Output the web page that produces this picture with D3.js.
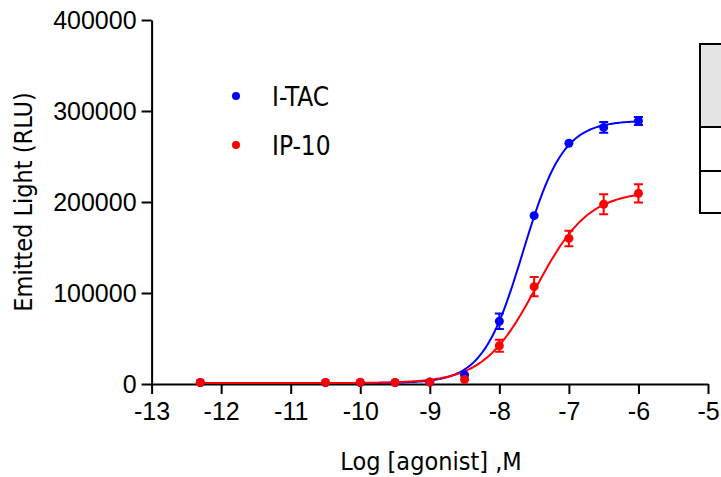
<!DOCTYPE html>
<html>
<head>
<meta charset="utf-8">
<script src="https://cdn.jsdelivr.net/npm/d3@7"></script>
<style>
  body { margin: 0; background: #fff; }
  svg { display: block; font-family: "DejaVu Sans Condensed", "DejaVu Sans", sans-serif; font-stretch: condensed; }
</style>
</head>
<body>
<div id="chart"></div>
<script>
// Data
const logDose = [-12.3, -10.5, -10, -9.5, -9, -8.5, -8, -7.5, -7, -6.5, -6];
const itacMean = [1600, 1500, 1700, 1500, 2200, 10000, 69000, 185000, 264500, 282000, 289000];
const itacSem = [0, 0, 0, 0, 0, 0, 8500, 0, 0, 6000, 4500];
const ip10Mean = [1700, 1600, 1800, 1600, 2000, 5000, 42000, 107000, 160000, 197500, 209500];
const ip10Sem = [0, 0, 0, 0, 0, 0, 6500, 10500, 8500, 11000, 10000];

// fitted 4PL params: [bottom, top, logEC50, hill]
const itacFit = [1000, 289500, -7.66, 1.5];
const ip10Fit = [1000, 212000, -7.47, 1.15];

const xTicks = [-13, -12, -11, -10, -9, -8, -7, -6, -5];
const yTicks = [0, 100000, 200000, 300000, 400000];
const seriesNames = ['I-TAC', 'IP-10'];
const seriesColors = ['#0000ff', '#ff0000'];

const W = 721, H = 477;
const FONT = 25;
const svg = d3.select('#chart').append('svg')
    .attr('width', W)
    .attr('height', H);

const x = d3.scaleLinear().domain([-13, -5]).range([151.6, 708]);
const y = d3.scaleLinear().domain([0, 400000]).range([384, 20]);

// results table stub at the right edge
const table = svg.append('g');
table.append('rect').attr('x', 700).attr('y', 44).attr('width', 30).attr('height', 83)
    .attr('fill', '#e4e4e4');
table.append('path')
    .attr('d', 'M730,44H700V213H730M700,127H730M700,171H730')
    .attr('fill', 'none').attr('stroke', '#000').attr('stroke-width', 2);

// axes
const xAxis = svg.append('g')
    .attr('transform', 'translate(0,384)')
    .call(d3.axisBottom(x).tickValues(xTicks).tickSize(10).tickSizeOuter(0).tickPadding(8)
        .tickFormat(d => d < 0 ? '-' + Math.abs(d) : d));
const yAxis = svg.append('g')
    .attr('transform', 'translate(151.6,0)')
    .call(d3.axisLeft(y).tickValues(yTicks).tickSize(10).tickSizeOuter(0).tickPadding(5)
        .tickFormat(d3.format('d')));

[xAxis, yAxis].forEach(a => {
    a.select('.domain').attr('stroke-width', 2);
    a.selectAll('.tick line').attr('stroke-width', 2);
    a.selectAll('.tick text').attr('font-size', FONT).attr('fill', '#000')
        .attr('font-family', null);
});

svg.append('text')
    .attr('x', 431).attr('y', 470)
    .attr('text-anchor', 'middle')
    .attr('font-size', FONT)
    .text('Log [agonist] ,M');

svg.append('text')
    .attr('transform', 'translate(32,202) rotate(-90)')
    .attr('text-anchor', 'middle')
    .attr('font-size', FONT)
    .text('Emitted Light (RLU)');

// curves
function fourPL(p) {
    return v => p[0] + (p[1] - p[0]) / (1 + Math.pow(10, (p[2] - v) * p[3]));
}
const curveX = d3.range(-12.3, -5.999, 0.02);
const line = d3.line().x(d => x(d[0])).y(d => y(d[1]));

const series = [
    { mean: itacMean, sem: itacSem, fit: itacFit, color: seriesColors[0] },
    { mean: ip10Mean, sem: ip10Sem, fit: ip10Fit, color: seriesColors[1] }
];

series.forEach(s => {
    const f = fourPL(s.fit);
    svg.append('path')
        .datum(curveX.map(v => [v, f(v)]))
        .attr('fill', 'none')
        .attr('stroke', s.color)
        .attr('stroke-width', 2)
        .attr('d', line);
});

series.forEach(s => {
    const g = svg.append('g').attr('stroke', s.color).attr('fill', s.color);
    logDose.forEach((d, i) => {
        const m = s.mean[i], e = s.sem[i];
        if (e > 0) {
            const cx = x(d), y1 = y(m - e), y2 = y(m + e);
            g.append('path')
                .attr('d', `M${cx},${y1}V${y2}M${cx - 4.5},${y1}H${cx + 4.5}M${cx - 4.5},${y2}H${cx + 4.5}`)
                .attr('stroke-width', 2).attr('fill', 'none');
        }
        g.append('circle').attr('cx', x(d)).attr('cy', y(m)).attr('r', 4.5).attr('stroke', 'none');
    });
});

// legend
seriesNames.forEach((name, i) => {
    const ly = 96 + i * 49;
    svg.append('circle').attr('cx', 236).attr('cy', ly).attr('r', 4).attr('fill', seriesColors[i]);
    svg.append('text').attr('x', 272).attr('y', ly + 10)
        .attr('font-size', FONT + 1)
        .text(name);
});
</script>
</body>
</html>
